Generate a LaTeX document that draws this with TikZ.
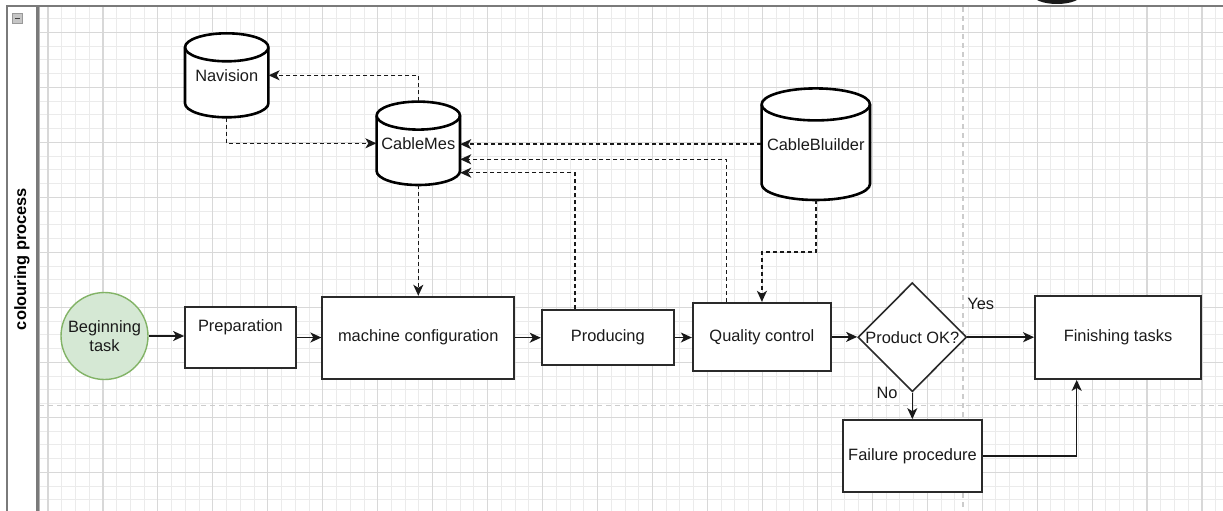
\documentclass[tikz,border=0pt]{standalone}
\usepackage{fontspec}
\setmainfont{Liberation Sans}
\usetikzlibrary{arrows.meta,shapes.geometric,calc}

\definecolor{boxline}{HTML}{2A2A2A}
\definecolor{startfill}{HTML}{D5E8D4}
\definecolor{startline}{HTML}{82B366}
\definecolor{gridminor}{HTML}{EBEBEB}
\definecolor{gridmajor}{HTML}{D8D8D8}
\definecolor{sepline}{HTML}{CCCCCC}
\definecolor{lanegray}{HTML}{7A7A7A}
\definecolor{inkcol}{HTML}{1A1A1A}

\newcommand\lab{\fontsize{16.4}{19.5}\selectfont}

% database cylinder: #1 name, #2 cx, #3 cy, #4 half width, #5 half height, #6 cap radius, #7 text
\newcommand\dbcyl[7]{%
  \draw[cylline] ({#2-#4},{#3-#5+#6}) arc[start angle=180,end angle=0,x radius=#4pt,y radius=#6pt]
    -- ({#2+#4},{#3+#5-#6}) arc[start angle=0,end angle=-180,x radius=#4pt,y radius=#6pt] -- cycle;
  \draw[cylline,fill=none] ({#2-#4},{#3-#5+#6}) arc[start angle=180,end angle=360,x radius=#4pt,y radius=#6pt];
  \node[cylnode,minimum width={2*#4},minimum height={2*#5}] (#1) at (#2,#3) {#7};
}

\begin{document}
\begin{tikzpicture}[x=1pt,y=-1pt,
  box/.style={draw=boxline,line width=1.8pt,fill=white,font=\lab,text=inkcol,inner sep=0pt},
  cylnode/.style={inner sep=0pt,font=\lab,text=inkcol},
  cylline/.style={draw=black,line width=2.6pt,fill=white,line join=round},
  flow/.style={draw=black!90,line width=1.5pt,-{Stealth[length=11pt,width=10pt,inset=3pt]}},
  data/.style={flow,dash pattern=on 4pt off 3pt},
  txt/.style={font=\lab,text=inkcol,inner sep=0pt},
  gminor/.style={draw=gridminor,line width=0.9pt},
  gmajor/.style={draw=gridmajor,line width=1.1pt},
  sep/.style={draw=sepline,line width=1.8pt,dash pattern=on 5pt off 4pt},
  lane/.style={draw=lanegray,line width=1.8pt}]

\useasboundingbox (0,0) rectangle (1223,511);
\fill[white] (0,0) rectangle (1223,511);

% drawing grid
\begin{scope}
  \clip (39,7) rectangle (1223,511);
  \foreach \i in {-1,...,87} \draw[gminor] ({48+\i*13.7375},0) -- ++(0,511);
  \foreach \j in {-2,...,36} \draw[gminor] (0,{32.3+\j*13.75}) -- ++(1223,0);
  \foreach \i in {0,...,21} \draw[gmajor] ({48+\i*54.95},0) -- ++(0,511);
  \foreach \j in {-1,...,9} \draw[gmajor] (0,{32.3+\j*55}) -- ++(1223,0);
\end{scope}

% page break guides
\draw[sep] (963,7) -- (963,511);
\draw[sep] (39,405.5) -- (1223,405.5);

% swimlane frame
\draw[lane] (7,511) -- (7,6) -- (1223,6);
\draw[lane,line width=2.4pt] (37.5,6) -- (37.5,511);
\draw[draw=gray!60,line width=0.8pt] (39.5,7) -- (39.5,511);
\draw[fill=gray!45,draw=gray!80,line width=0.6pt] (12.5,13.5) rectangle (22,23.5);
\draw[line width=1.6pt,draw=black!75] (14.5,18.5) -- (20,18.5);
\node[font=\lab\bfseries,text=black,rotate=90,inner sep=0pt] (lanelabel) at (22,259) {colouring process};

% dark shape peeking in at the top edge
\fill[black!90] (1057,-6) ellipse [x radius=25pt,y radius=10pt];

% databases
\dbcyl{nav}{226.7}{75.3}{41.7}{42}{14}{Navision}
\dbcyl{cm}{418.3}{143.3}{41.7}{41.7}{14}{CableMes}
\dbcyl{cb}{815.8}{144.2}{54.2}{55.8}{16}{CableBluilder}

% process steps
\node[circle,draw=startline,fill=startfill,line width=1.4pt,minimum size=87pt,inner sep=0pt,
      font=\lab,text=inkcol,align=center] (begin) at (104.5,336) {Beginning\\task};
\node[box,minimum width=110.7pt,minimum height=61.6pt] (prep) at (240.4,337.5) {};
\node[txt] (preptext) at ([yshift=10.5pt]prep.center) {Preparation};
\node[box,minimum width=192pt,minimum height=82pt] (mc) at (418.3,337.7) {machine configuration};
\node[box,minimum width=132.3pt,minimum height=55pt] (prod) at (607.8,337.5) {Producing};
\node[box,minimum width=138.3pt,minimum height=68.3pt] (qc) at (761.9,336.9) {Quality control};
\node[diamond,draw=boxline,fill=white,line width=1.6pt,minimum width=108.7pt,minimum height=109pt,
      inner sep=0pt,aspect=1] (dec) at (912.3,337.2) {};
\node[txt] (dectext) at (dec.center) {Product OK?};
\node[box,minimum width=166pt,minimum height=83pt] (fin) at (1118,337.5) {Finishing tasks};
\node[box,minimum width=138.4pt,minimum height=72.3pt] (fail) at (912.5,456.2) {Failure procedure};

% process flow
\draw[flow] (begin.east) -- (prep.west |- begin.east);
\draw[flow] (prep.east) -- (mc.west |- prep.east);
\draw[flow] (mc.east) -- (prod.west |- mc.east);
\draw[flow] (prod.east) -- (qc.west |- prod.east);
\draw[flow] (qc.east) -- (dec.west |- qc.east);
\draw[flow] (dec.east) -- (fin.west |- dec.east) node[txt,pos=0.2,above=27pt] (yes) {Yes};
\draw[flow] (dec.south) -- (fail.north -| dec.south) node[txt,pos=0,left=14pt] (no) {No};
\draw[flow] (fail.east) -| ([xshift=-41.3pt]fin.south);

% data exchange
\draw[data] (cm.north) |- (nav.east);
\draw[data] (nav.south) |- (cm.west);
\draw[data] (cm.south) -- (mc.north);
\draw[data] (cb.west) -- (cb.west -| cm.east);
\draw[data] ([xshift=-35.2pt]qc.north) |- ([yshift=-16pt]cm.east);
\draw[data] ([xshift=-32.8pt]prod.north) |- ([yshift=-29.4pt]cm.east);
\draw[data] (cb.south) -- ++(0,51.7) -| (qc.north);

\end{tikzpicture}
\end{document}
